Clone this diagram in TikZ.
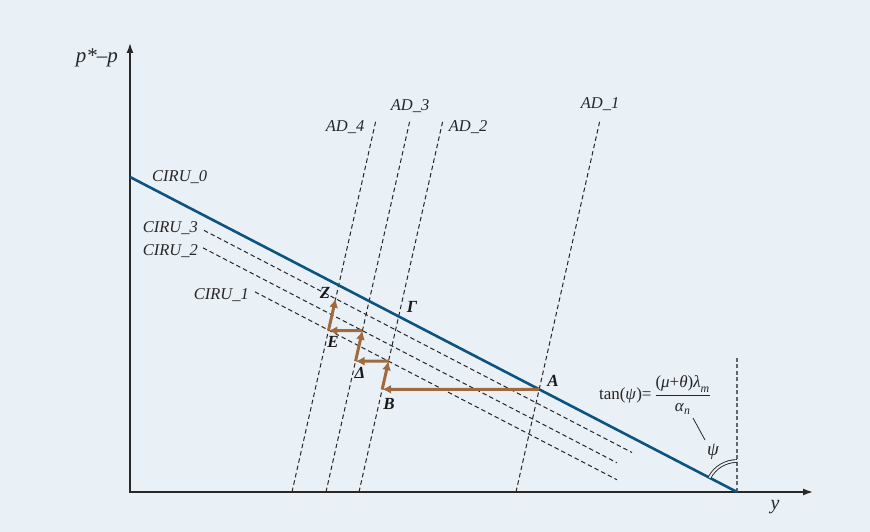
\documentclass[tikz,border=0pt]{standalone}
\usepackage{amsmath}
\usepackage{fontspec}
\setmainfont{Liberation Serif}
\usetikzlibrary{arrows.meta}
\definecolor{PanelBg}{RGB}{233,241,247}
\definecolor{CurveBlue}{RGB}{14,82,128}
\definecolor{PathBrown}{RGB}{160,106,62}
\definecolor{AxisGrey}{RGB}{40,40,40}

\begin{document}
\begin{tikzpicture}[x=1pt,y=1pt,
axis/.style={draw=AxisGrey,line width=1.5pt,{Latex[length=10pt,width=7pt]}-{Latex[length=10pt,width=7pt]}},
ciru/.style={draw=CurveBlue,line width=2.6pt},
shifted/.style={draw=black!85,dash pattern=on 4.5pt off 3pt,line width=1pt},
move/.style={draw=PathBrown,line width=3pt,-{Latex[length=9pt,width=9pt]}},
lbl/.style={font=\fontsize{16.5}{18}\selectfont\itshape,text=black!85,inner sep=1pt},
pt/.style={font=\fontsize{17}{18}\selectfont\bfseries\itshape,text=black!90,inner sep=1pt}]

\fill[PanelBg] (0,0) rectangle (870,532);
\useasboundingbox (0,0) rectangle (870,532);

% axes
\coordinate (O) at (130,40);
\coordinate (ytop) at (130,489);
\coordinate (xend) at (813,40);
\draw[axis] (ytop) -- (O) -- (xend);
\node[lbl,font=\fontsize{21}{22}\selectfont\itshape,anchor=east] (ylab) at (119,474) {p*–p};
\node[lbl,font=\fontsize{20}{22}\selectfont\itshape] (xlab) at (775,25) {y};

% shifted curves
\coordinate (c3a) at (204,301.6); \coordinate (c3b) at (632,79.5);
\coordinate (c2a) at (203,284.1); \coordinate (c2b) at (617,69.2);
\coordinate (c1a) at (255,240.1); \coordinate (c1b) at (617,52.2);
\foreach \n in {1,2,3}{\draw[shifted] (c\n a) -- (c\n b);}
\node[lbl,anchor=east] (ciru3) at (199,304) {CIRU\_3};
\node[lbl,anchor=east] (ciru2) at (199,281) {CIRU\_2};
\node[lbl,anchor=east] (ciru1) at (250,237) {CIRU\_1};

% demand lines
\foreach \n/\xb/\xt in {1/516/600,2/359/443,3/326/410,4/292/376}{
  \coordinate (ad\n a) at (\xb,40);
  \coordinate (ad\n b) at (\xt,412);
  \draw[shifted] (ad\n a) -- (ad\n b);
}
\node[lbl] (ad4) at (345,405) {AD\_4};
\node[lbl] (ad3) at (410,426) {AD\_3};
\node[lbl] (ad2) at (468,405) {AD\_2};
\node[lbl] (ad1) at (600,428) {AD\_1};

% initial curve
\coordinate (c0a) at (130,355);
\coordinate (c0b) at (737,40);
\coordinate (vtop) at (737,174);
\draw[draw=gray!80!black,dash pattern=on 4pt off 2.5pt,line width=1.2pt] (c0b) -- (vtop);
\draw[ciru] (c0a) -- (c0b);
\node[lbl,anchor=west] (ciru0) at (151,355) {CIRU\_0};

% adjustment path
\coordinate (A) at (intersection of ad1a--ad1b and c0a--c0b);
\coordinate (Ah) at (A -| O);
\coordinate (B) at (intersection of A--Ah and ad2a--ad2b);
\coordinate (C1) at (intersection of ad2a--ad2b and c1a--c1b);
\coordinate (C1h) at (C1 -| O);
\coordinate (D) at (intersection of C1--C1h and ad3a--ad3b);
\coordinate (C2) at (intersection of ad3a--ad3b and c2a--c2b);
\coordinate (C2h) at (C2 -| O);
\coordinate (E) at (intersection of C2--C2h and ad4a--ad4b);
\coordinate (Z) at (intersection of ad4a--ad4b and c3a--c3b);
\foreach \x/\y in {A/B,B/C1,C1/D,D/C2,C2/E,E/Z}{\draw[move] (\x) -- (\y);}

\node[pt] (lA) at (553,151) {A};
\node[pt] (lB) at (389,128) {B};
\node[pt] (lG) at (412,225) {Γ};
\node[pt] (lD) at (360,159) {Δ};
\node[pt] (lE) at (333,190) {E};
\node[pt] (lZ) at (325,239) {Z};

% slope
\draw[draw=AxisGrey,line width=0.9pt,double=PanelBg,double distance=1.8pt] (c0b) ++(152.57:31) arc[start angle=152.57,end angle=90,radius=31];
\node[font=\fontsize{17}{18}\selectfont,text=black!85,inner sep=1pt] (tanf) at (655,137)
  {tan(\textit{ψ})=\,$\dfrac{\text{(\textit{μ}+\textit{θ})\textit{λ}}_{\text{\textit{m}}}}{\text{\textit{α}}_{\text{\textit{n}}}}$};
\node[lbl,font=\fontsize{19}{20}\selectfont\itshape] (psi) at (713,80) {ψ};
\coordinate (pa) at (693,114);
\coordinate (pb) at (705,92);
\draw[AxisGrey,line width=0.8pt] (pa) -- (pb);
\end{tikzpicture}
\end{document}
